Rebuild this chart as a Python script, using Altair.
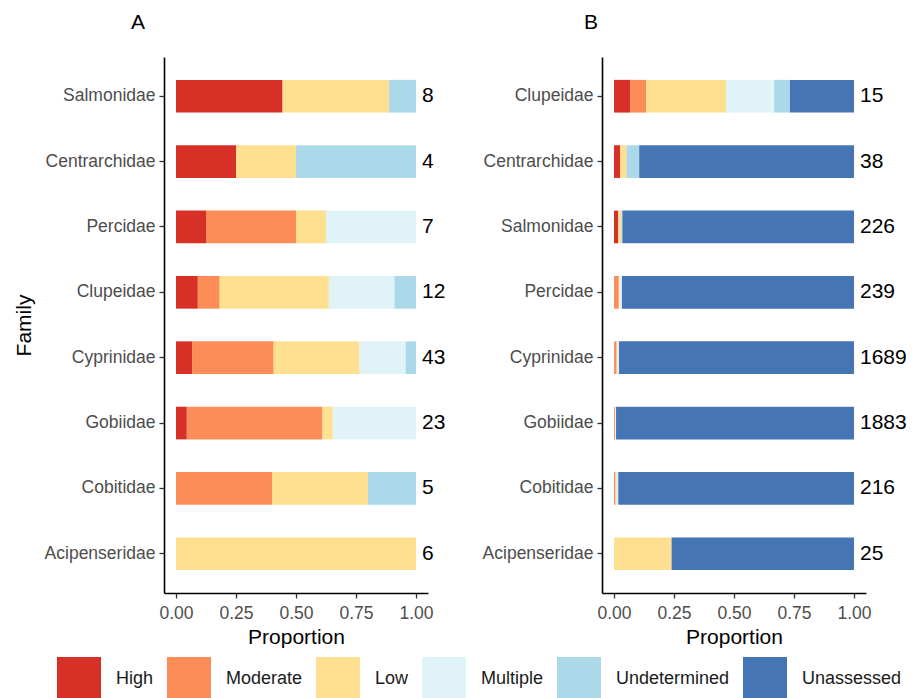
import altair as alt
import pandas as pd

levels = ["High", "Moderate", "Low", "Multiple", "Undetermined", "Unassessed"]
colors = ["#D73027", "#FC8D59", "#FEE090", "#E0F3F8", "#ABD9E9", "#4575B4"]

# Panel A (families top -> bottom)
families_A = ["Salmonidae", "Centrarchidae", "Percidae", "Clupeidae",
              "Cyprinidae", "Gobiidae", "Cobitidae", "Acipenseridae"]
n_A = [8, 4, 7, 12, 43, 23, 5, 6]
high_A = [0.444, 0.25, 0.125, 0.091, 0.067, 0.045, 0.0, 0.0]
moderate_A = [0.0, 0.0, 0.375, 0.091, 0.340, 0.565, 0.4, 0.0]
low_A = [0.444, 0.25, 0.125, 0.455, 0.358, 0.043, 0.4, 1.0]
multiple_A = [0.0, 0.0, 0.375, 0.273, 0.192, 0.347, 0.0, 0.0]
undetermined_A = [0.112, 0.5, 0.0, 0.090, 0.043, 0.0, 0.2, 0.0]
unassessed_A = [0.0, 0.0, 0.0, 0.0, 0.0, 0.0, 0.0, 0.0]

# Panel B (families top -> bottom)
families_B = ["Clupeidae", "Centrarchidae", "Salmonidae", "Percidae",
              "Cyprinidae", "Gobiidae", "Cobitidae", "Acipenseridae"]
n_B = [15, 38, 226, 239, 1689, 1883, 216, 25]
high_B = [0.067, 0.026, 0.018, 0.0, 0.002, 0.0005, 0.0, 0.0]
moderate_B = [0.067, 0.0, 0.0, 0.020, 0.009, 0.004, 0.006, 0.0]
low_B = [0.333, 0.026, 0.013, 0.003, 0.004, 0.001, 0.005, 0.24]
multiple_B = [0.200, 0.0, 0.0, 0.010, 0.005, 0.003, 0.004, 0.0]
undetermined_B = [0.066, 0.053, 0.004, 0.0, 0.001, 0.0, 0.003, 0.0]
unassessed_B = [0.267, 0.895, 0.965, 0.967, 0.979, 0.9915, 0.982, 0.76]

FONT = "Liberation Sans"


def to_long(fams, cols):
    rows = []
    for i, f in enumerate(fams):
        for k, lev in enumerate(levels):
            v = cols[k][i]
            if v > 0:
                rows.append({"Family": f, "Risk": lev, "rank": k, "Proportion": v})
    return pd.DataFrame(rows)


def panel(fams, cols, counts, tag, ytitle, tag_dx):
    df = to_long(fams, cols)
    tot = df.groupby("Family", as_index=False)["Proportion"].sum()
    tot["n"] = tot["Family"].map(dict(zip(fams, counts))).astype(str)

    xscale = alt.Scale(domain=[-0.05, 1.05], nice=False, zero=False)
    yscale = alt.Scale(domain=fams, paddingInner=0.5, paddingOuter=0.35)
    color = alt.Color(
        "Risk:N",
        scale=alt.Scale(domain=levels, range=colors),
        legend=alt.Legend(
            orient="none", direction="horizontal", title=None,
            legendX=-107, legendY=600,
            symbolType="square", symbolSize=1936, symbolStrokeWidth=0,
            symbolOpacity=1, labelFontSize=18, labelFont=FONT,
            labelColor="#1a1a1a", labelOffset=15, columnPadding=13,
        ),
    )
    xaxis = alt.Axis(
        values=[0, 0.25, 0.5, 0.75, 1.0], format=".2f", grid=False,
        title="Proportion", titleFontSize=21, titleFont=FONT,
        titleFontWeight="normal", titleColor="black", titlePadding=5,
        labelFontSize=17.5, labelFont=FONT, labelColor="#4D4D4D",
        labelPadding=6, tickSize=5, tickColor="#333333", tickWidth=1.3,
        domainColor="black", domainWidth=1.6,
    )
    yaxis = alt.Axis(
        grid=False, labelFontSize=17.5, labelFont=FONT, labelColor="#4D4D4D",
        labelPadding=4, tickSize=5, tickColor="#333333", tickWidth=1.3,
        domainColor="black", domainWidth=1.6, titleFontSize=21, titleFont=FONT,
        titleFontWeight="normal", titleColor="black", titlePadding=10,
    )
    ytitle_kw = {"title": ytitle} if ytitle else {"title": None}
    bars = alt.Chart(df).mark_bar().encode(
        x=alt.X("Proportion:Q", stack="zero", scale=xscale, axis=xaxis),
        y=alt.Y("Family:N", scale=yscale, axis=yaxis, sort=fams, **ytitle_kw),
        color=color,
        order=alt.Order("rank:Q", sort="ascending"),
    )
    text = alt.Chart(tot).mark_text(
        align="left", baseline="middle", dx=6, fontSize=21, font=FONT,
        color="black",
    ).encode(
        x=alt.X("Proportion:Q", scale=xscale),
        y=alt.Y("Family:N", scale=yscale, sort=fams),
        text="n:N",
    )
    return alt.layer(bars, text).properties(
        width=264, height=536,
        title=alt.TitleParams(
            tag, anchor="start", frame="group", dx=tag_dx, fontSize=21,
            font=FONT, fontWeight="normal", color="black", offset=24,
        ),
    )


A = panel(families_A, [high_A, moderate_A, low_A, multiple_A, undetermined_A, unassessed_A],
          n_A, "A", "Family", -33)
B = panel(families_B, [high_B, moderate_B, low_B, multiple_B, undetermined_B, unassessed_B],
          n_B, "B", None, -18)

chart = alt.hconcat(A, B, spacing=174, bounds="flush").resolve_scale(
    color="shared"
).properties(
    padding={"left": 13, "top": 12, "right": 5, "bottom": 5},
    background="white",
).configure_view(stroke=None)

chart.save("out.html", embed_options={"renderer": "svg", "actions": False})
